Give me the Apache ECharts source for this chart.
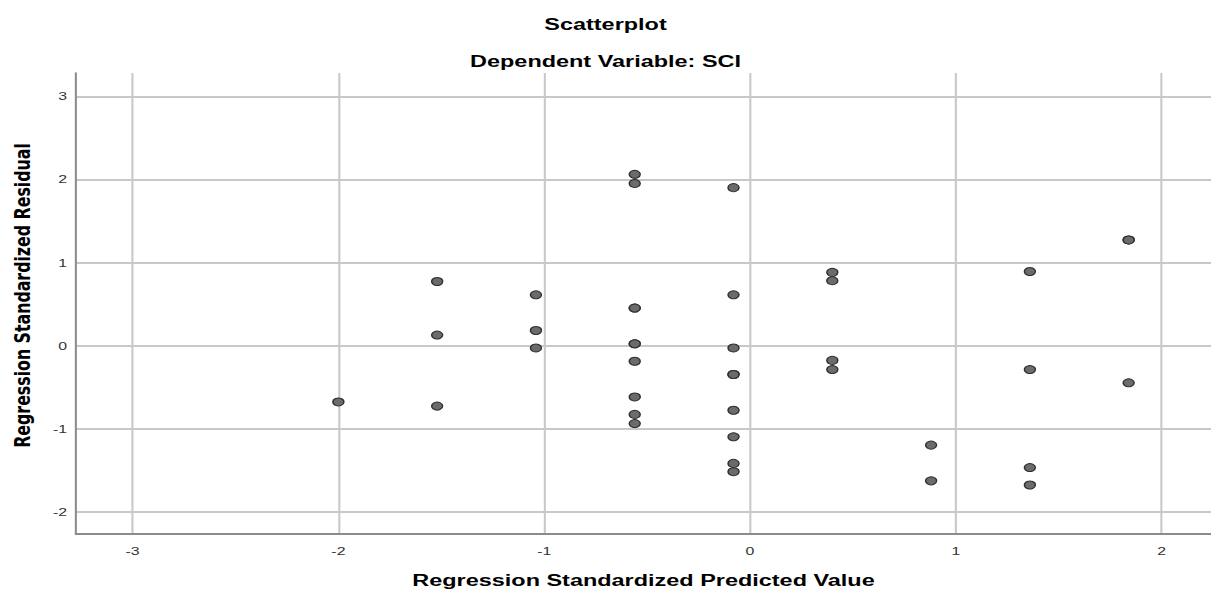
<!DOCTYPE html>
<html>
<head>
<meta charset="utf-8">
<script src="https://cdn.jsdelivr.net/npm/echarts@6/dist/echarts.min.js"></script>
<style>
html,body{margin:0;padding:0;background:#fff;overflow:hidden;}
#wrap{width:1211px;height:598px;overflow:hidden;}
#c{width:878px;height:598px;transform:scaleX(1.3793);transform-origin:0 0;}
</style>
</head>
<body>
<div id="wrap"><div id="c"></div></div>
<script>
// Data
var titleText = 'Scatterplot';
var subTitleText = 'Dependent Variable: SCI';
var xAxisTitle = 'Regression Standardized Predicted Value';
var yAxisTitle = 'Regression Standardized Residual';

var xTicks = [-3, -2, -1, 0, 1, 2];
var yTicks = [-2, -1, 0, 1, 2, 3];

var predicted = [
  -2.00,
  -1.52, -1.52, -1.52,
  -1.04, -1.04, -1.04,
  -0.56, -0.56, -0.56, -0.56, -0.56, -0.56, -0.56, -0.56, -0.56, -0.56,
  -0.08, -0.08, -0.08, -0.08, -0.08, -0.08, -0.08, -0.08, -0.08,
  0.40, 0.40, 0.40, 0.40,
  0.88, 0.88,
  1.36, 1.36, 1.36, 1.36,
  1.84, 1.84, 1.84
];
var residual = [
  -0.68,
  0.77, 0.125, -0.73,
  0.61, 0.18, -0.03,
  2.06, 1.95, 0.45, 0.45, 0.02, 0.02, -0.19, -0.62, -0.83, -0.94,
  1.90, 0.61, -0.03, -0.35, -0.35, -0.78, -1.10, -1.42, -1.52,
  0.88, 0.78, -0.18, -0.29,
  -1.20, -1.63,
  0.89, -0.29, -1.47, -1.68,
  1.27, 1.27, -0.45
];

var points = predicted.map(function (x, i) { return [x, residual[i]]; });

var FONT = "'Liberation Sans', Arial, Helvetica, sans-serif";
var YFONT = "'DejaVu Sans', 'Liberation Sans', Arial, sans-serif";
var TICKFONT = "'Liberation Sans Narrow', 'Arial Narrow', 'Liberation Sans', Arial, sans-serif";
var chart = echarts.init(document.getElementById('c'), null, {renderer: 'svg'});
chart.setOption({
  animation: false,
  backgroundColor: '#ffffff',
  title: [
    {text: titleText, left: 'center', top: 10,
     textStyle: {fontFamily: FONT, fontSize: 17, fontWeight: 'bold', color: '#000'}},
    {text: subTitleText, left: 'center', top: 47,
     textStyle: {fontFamily: FONT, fontSize: 17, fontWeight: 'bold', color: '#000'}}
  ],
  grid: {left: 55.1, top: 73, right: 0, bottom: 64, containLabel: false},
  xAxis: {
    type: 'value',
    min: -3.275, max: 2.24,
    name: xAxisTitle,
    nameLocation: 'middle',
    nameGap: 37,
    nameTextStyle: {fontFamily: FONT, fontSize: 17, fontWeight: 'bold', color: '#000'},
    axisLine: {show: true, onZero: false, lineStyle: {color: '#8c8c8c', width: 2}},
    axisTick: {show: false, customValues: xTicks},
    axisLabel: {customValues: xTicks, margin: 11, fontFamily: TICKFONT, fontSize: 11.5, color: '#333'},
    splitLine: {show: true, lineStyle: {color: '#c8c8c8', width: 1.5}}
  },
  yAxis: {
    type: 'value',
    min: -2.27, max: 3.28,
    name: yAxisTitle,
    nameLocation: 'middle',
    nameGap: 31,
    nameTextStyle: {fontFamily: YFONT, fontSize: 15.8, fontWeight: 'bold', color: '#000', padding: [0, 0, 0, 16]},
    axisLine: {show: true, onZero: false, lineStyle: {color: '#8c8c8c', width: 1.5}},
    axisTick: {show: false, customValues: yTicks},
    axisLabel: {customValues: yTicks, margin: 6.5, fontFamily: TICKFONT, fontSize: 11.5, color: '#333'},
    splitLine: {show: true, lineStyle: {color: '#c8c8c8', width: 2}}
  },
  series: [{
    type: 'scatter',
    data: points,
    symbol: 'circle',
    symbolSize: 8,
    itemStyle: {color: '#6b6b6b', borderColor: '#2e2e2e', borderWidth: 1, opacity: 1},
    z: 5
  }]
});
</script>
</body>
</html>
